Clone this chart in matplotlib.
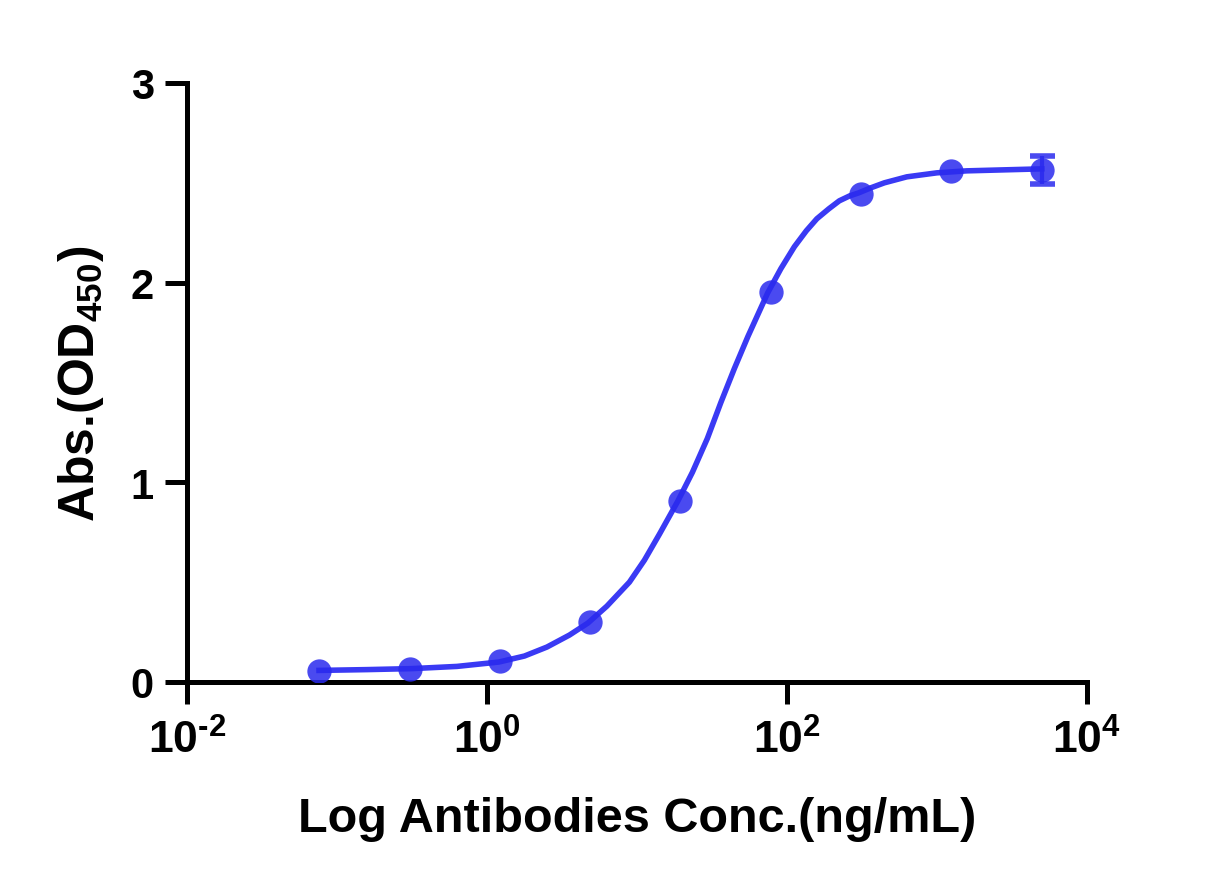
import numpy as np
import matplotlib
matplotlib.use("Agg")
import matplotlib.pyplot as plt

# dilution series (ng/mL) and mean OD450
conc = [0.0763, 0.305, 1.22, 4.88, 19.53, 78.13, 312.5, 1250, 5000]
od450 = [0.055, 0.065, 0.105, 0.30, 0.905, 1.955, 2.445, 2.56, 2.565]
od_err = [0, 0, 0, 0, 0, 0, 0, 0, 0.07]

# fitted curve (log10 conc, OD)
curve_logx = [-1.12, -0.8, -0.5, -0.2, 0.08, 0.25, 0.40, 0.55, 0.673, 0.80,
              0.95, 1.05, 1.15, 1.273, 1.37, 1.47, 1.56, 1.65, 1.74, 1.873,
              1.96, 2.05, 2.13, 2.20, 2.28, 2.35, 2.42, 2.48, 2.56, 2.65, 2.80,
              3.0, 3.2, 3.45, 3.70]
curve_y = [0.058, 0.062, 0.067, 0.078, 0.100, 0.130, 0.175, 0.235, 0.295, 0.38,
           0.50, 0.61, 0.74, 0.906, 1.05, 1.22, 1.40, 1.57, 1.73, 1.95,
           2.07, 2.18, 2.26, 2.32, 2.37, 2.41, 2.435, 2.45, 2.475, 2.50, 2.53,
           2.55, 2.56, 2.565, 2.57]

xticks = [1e-2, 1e0, 1e2, 1e4]
xtick_labels = [r'$\mathbf{10^{\text{-}2}}$', r'$\mathbf{10^{0}}$', r'$\mathbf{10^{2}}$', r'$\mathbf{10^{4}}$']
yticks = [0, 1, 2, 3]

plt.rcParams['font.family'] = ['Liberation Sans', 'DejaVu Sans']
plt.rcParams['font.weight'] = 'bold'
plt.rcParams['mathtext.fontset'] = 'custom'
plt.rcParams['mathtext.rm'] = 'Liberation Sans:bold'
plt.rcParams['mathtext.bf'] = 'Liberation Sans:bold'
plt.rcParams['mathtext.default'] = 'bf'

blue = '#3a3af4'

fig = plt.figure(figsize=(12.28, 8.87), dpi=100)
ax = fig.add_axes([0.1523, 0.23, 0.7327, 0.6753])

ax.plot(10 ** np.array(curve_logx), curve_y, color=blue, lw=4, zorder=2,
        solid_joinstyle='round')
ax.plot(conc, od450, 'o', ms=17.5, color='#2a2aee', mec='none', alpha=0.85, zorder=3)

x = np.array(conc)
y = np.array(od450)
e = np.array(od_err)
m = e > 0
ax.errorbar(x[m], y[m], yerr=e[m], fmt='none', ecolor='#2a2aee', alpha=0.85,
            elinewidth=3, capsize=9, capthick=4, zorder=3)

ax.set_xscale('log')
ax.set_xlim(1e-2, 1e4)
ax.set_ylim(0, 3)
ax.set_xticks(xticks)
ax.set_xticklabels(xtick_labels)
ax.minorticks_off()
ax.set_yticks(yticks)

for s in ['top', 'right']:
    ax.spines[s].set_visible(False)
for s in ['left', 'bottom']:
    ax.spines[s].set_linewidth(3.6)
ax.tick_params(axis='both', width=3.6, length=16)
ax.tick_params(axis='y', labelsize=30, pad=8)
ax.tick_params(axis='x', labelsize=32, pad=10)

ax.set_xlabel('Log Antibodies Conc.(ng/mL)', fontsize=35, fontweight='bold', labelpad=25)
ax.set_ylabel(r'Abs.(OD$_{450}$)', fontsize=36, fontweight='bold', labelpad=18)

fig.savefig('out.png', dpi=100)
